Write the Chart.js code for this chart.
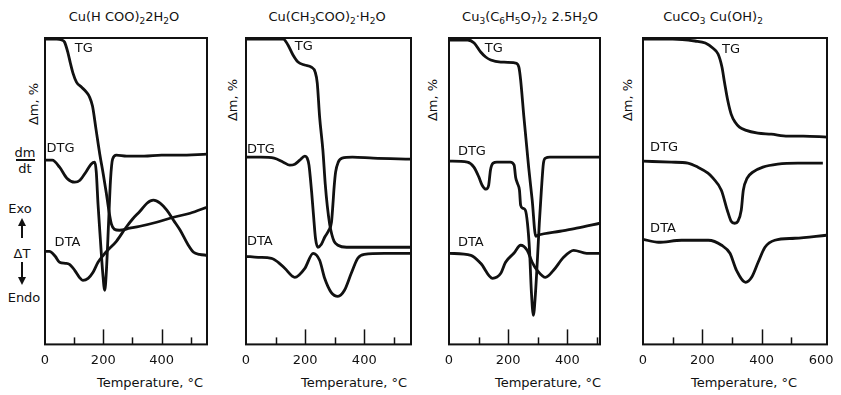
<!DOCTYPE html>
<html>
<head>
<meta charset="utf-8">
<script src="https://cdn.jsdelivr.net/npm/chart.js@4.4.1/dist/chart.umd.min.js"></script>
<style>
  body { margin: 0; background: #fff; }
  #page { position: relative; width: 841px; height: 395px; overflow: hidden; font-family: "DejaVu Sans", sans-serif; color: #111; }
  .panel { position: absolute; top: 34px; }
  .txt { position: absolute; white-space: nowrap; font-size: 13px; transform: translate(-50%, -50%); }
  .ytitle { transform: translate(-50%, -50%) rotate(-90deg); }
  sub { font-size: 9px; vertical-align: -3px; line-height: 0; }
  .vline { position: absolute; width: 2px; background: #111; }
  .head-up { position: absolute; width: 0; height: 0; border-left: 4px solid transparent; border-right: 4px solid transparent; border-bottom: 8px solid #111; }
  .head-down { position: absolute; width: 0; height: 0; border-left: 4px solid transparent; border-right: 4px solid transparent; border-top: 8px solid #111; }
</style>
</head>
<body>
<div id="page">
  <div class="txt" style="left:124px;top:16px">Cu(H COO)<sub>2</sub>2H<sub>2</sub>O</div>
  <div class="txt" style="left:327px;top:16px">Cu(CH<sub>3</sub>COO)<sub>2</sub>·H<sub>2</sub>O</div>
  <div class="txt" style="left:530px;top:16px">Cu<sub>3</sub>(C<sub>6</sub>H<sub>5</sub>O<sub>7</sub>)<sub>2</sub> 2.5H<sub>2</sub>O</div>
  <div class="txt" style="left:713px;top:16px">CuCO<sub>3</sub> Cu(OH)<sub>2</sub></div>

  <div class="txt ytitle" style="left:33px;top:104px">Δm, %</div>
  <div class="txt ytitle" style="left:232px;top:100px">Δm, %</div>
  <div class="txt ytitle" style="left:432px;top:100px">Δm, %</div>
  <div class="txt ytitle" style="left:627px;top:100px">Δm, %</div>

  <div class="txt" style="left:25px;top:152px">dm</div>
  <div class="vline" style="left:16px;top:159px;width:19px;height:1.5px"></div>
  <div class="txt" style="left:25px;top:168px">dt</div>

  <div class="txt" style="left:20px;top:208px">Exo</div>
  <div class="head-up" style="left:18px;top:218px"></div>
  <div class="vline" style="left:21px;top:224px;height:14px"></div>
  <div class="txt" style="left:22px;top:253px">ΔT</div>
  <div class="vline" style="left:21px;top:262px;height:16px"></div>
  <div class="head-down" style="left:18px;top:277px"></div>
  <div class="txt" style="left:24px;top:297px">Endo</div>

  <div class="txt" style="left:150px;top:382px">Temperature, °C</div>
  <div class="txt" style="left:354px;top:382px">Temperature, °C</div>
  <div class="txt" style="left:548px;top:382px">Temperature, °C</div>
  <div class="txt" style="left:744px;top:382px">Temperature, °C</div>
</div>
<script>
// copper formate
const formateTgT = [0, 40, 58, 67, 79, 87, 96, 108, 125, 142, 153, 163, 175, 188, 200, 210, 219, 228, 238, 255, 291, 326, 383, 441, 498, 556];
const formateTg = [305, 305, 304, 302, 291, 281, 271, 262, 257, 252, 247, 238, 215, 190, 170, 152, 134, 120, 115, 114, 116, 118, 122, 127, 131, 137];
const formateDtgT = [0, 25, 50, 75, 102, 120, 140, 158, 171, 176, 182, 190, 198, 205, 211, 218, 225, 232, 245, 280, 340, 400, 460, 556];
const formateDtg = [184, 184, 177, 166, 162, 164, 172, 180, 182, 172, 140, 105, 72, 54, 75, 120, 165, 185, 189, 188, 188, 189, 189, 190];
const formateDtaT = [0, 15, 35, 50, 70, 84, 102, 118, 130, 148, 165, 182, 200, 215, 245, 276, 300, 326, 350, 372, 395, 418, 441, 464, 490, 510, 530, 556];
const formateDta = [93, 93, 88, 82, 81, 80, 74, 67, 64, 66, 72, 82, 89, 94, 103, 116, 125, 133, 141, 144, 141, 134, 124, 114, 100, 92, 90, 89];

// copper acetate
const acetateTgT = [0, 126, 142, 159, 176, 198, 221, 234, 241, 249, 260, 268, 275, 283, 290, 298, 311, 340, 430, 558];
const acetateTg = [305, 305, 299, 289, 282, 279, 277, 272, 261, 227, 194, 160, 138, 120, 110, 103, 99, 97, 97, 97];
const acetateDtgT = [0, 50, 95, 126, 148, 165, 182, 199, 207, 213, 218, 222, 228, 235, 243, 255, 266, 280, 289, 294, 298, 303, 312, 325, 360, 430, 558];
const acetateDtg = [187, 187, 186, 182, 179, 180, 184, 188, 186, 179, 165, 152, 130, 106, 97, 100, 107, 114, 122, 140, 157, 172, 182, 186, 187, 186, 185];
const acetateDtaT = [0, 41, 86, 109, 131, 165, 199, 227, 249, 266, 288, 311, 333, 356, 378, 400, 468, 558];
const acetateDta = [88, 87, 86, 82, 76, 67, 76, 91, 84, 66, 52, 48, 54, 71, 86, 90, 91, 91];

// copper citrate
const citrateTgT = [0, 63, 85, 107, 124, 141, 175, 225, 236, 242, 253, 269, 281, 293, 300, 375, 431, 510];
const citrateTg = [304, 304, 301, 292, 287, 284, 282, 281, 277, 264, 227, 177, 144, 108, 109, 113, 116, 121];
const citrateDtgT = [0, 62, 84, 101, 112, 125, 134, 140, 149, 162, 207, 220, 225, 231, 238, 242, 249, 258, 265, 272, 278, 285, 292, 299, 305, 312, 319, 326, 341, 510];
const citrateDtg = [183, 182, 177, 167, 159, 155, 159, 174, 181, 182, 182, 179, 167, 161, 154, 139, 136, 134, 121, 94, 54, 29, 51, 87, 121, 154, 181, 186, 187, 187];
const citrateDtaT = [0, 74, 107, 147, 175, 191, 219, 242, 264, 281, 298, 326, 353, 387, 421, 465, 510];
const citrateDta = [91, 89, 81, 66, 71, 82, 91, 99, 94, 82, 74, 67, 74, 87, 94, 91, 91];

// basic copper carbonate
const carbonateTgT = [0, 100, 175, 210, 235, 253, 266, 275, 286, 297, 310, 325, 345, 387, 432, 488, 540, 620];
const carbonateTg = [305, 305, 303, 301, 296, 290, 277, 261, 243, 230, 222, 217, 214, 211, 210, 208, 208, 207];
const carbonateDtgT = [0, 95, 151, 185, 219, 236, 264, 284, 297, 309, 320, 331, 338, 351, 370, 404, 454, 522, 606];
const carbonateDtg = [183, 182, 181, 177, 171, 166, 154, 134, 123, 121, 123, 134, 154, 166, 172, 177, 180, 181, 181];
const carbonateDtaT = [0, 52, 130, 220, 265, 293, 315, 346, 366, 388, 411, 444, 512, 618];
const carbonateDta = [105, 102, 104, 104, 99, 91, 74, 62, 67, 82, 97, 104, 106, 109];

const majorTicks = [0, 200, 400];
const majorTicksWide = [0, 200, 400, 600];
const minorTicks = [100, 300, 500];

function pts(t, v) {
  return t.map((x, i) => ({ x: x, y: v[i] }));
}

const framePlugin = {
  id: "frame",
  afterDatasetsDraw(chart, args, opts) {
    const ctx = chart.ctx;
    const a = chart.chartArea;
    const x = chart.scales.x;
    const y = chart.scales.y;
    ctx.save();
    ctx.strokeStyle = "#111";
    ctx.lineWidth = 2;
    ctx.strokeRect(a.left, a.top, a.right - a.left, a.bottom - a.top);
    ctx.lineWidth = 1.5;
    opts.major.forEach((v) => {
      if (v <= 0 || v > x.max - 30) return;
      const px = Math.round(x.getPixelForValue(v)) + 0.5;
      ctx.beginPath();
      ctx.moveTo(px, a.bottom);
      ctx.lineTo(px, a.bottom - 15);
      ctx.stroke();
    });
    opts.minor.forEach((v) => {
      if (v >= x.max) return;
      const px = Math.round(x.getPixelForValue(v)) + 0.5;
      ctx.beginPath();
      ctx.moveTo(px, a.bottom);
      ctx.lineTo(px, a.bottom - 7);
      ctx.stroke();
    });
    ctx.fillStyle = "#111";
    ctx.font = '13px "DejaVu Sans"';
    ctx.textBaseline = "middle";
    ctx.textAlign = "left";
    opts.labels.forEach((l) => {
      ctx.fillText(l.text, x.getPixelForValue(l.t), y.getPixelForValue(l.v));
    });
    ctx.restore();
  },
};

const panels = [
  {
    left: 45, width: 162, xMax: 556, major: majorTicks,
    curves: [pts(formateTgT, formateTg), pts(formateDtgT, formateDtg), pts(formateDtaT, formateDta)],
    labels: [{ text: "TG", t: 102, v: 295 }, { text: "DTG", t: 5, v: 196 }, { text: "DTA", t: 33, v: 102 }],
  },
  {
    left: 246, width: 165, xMax: 558, major: majorTicks,
    curves: [pts(acetateTgT, acetateTg), pts(acetateDtgT, acetateDtg), pts(acetateDtaT, acetateDta)],
    labels: [{ text: "TG", t: 165, v: 297 }, { text: "DTG", t: 3, v: 195 }, { text: "DTA", t: 3, v: 103 }],
  },
  {
    left: 449, width: 151, xMax: 510, major: majorTicks,
    curves: [pts(citrateTgT, citrateTg), pts(citrateDtgT, citrateDtg), pts(citrateDtaT, citrateDta)],
    labels: [{ text: "TG", t: 121, v: 295 }, { text: "DTG", t: 30, v: 193 }, { text: "DTA", t: 30, v: 102 }],
  },
  {
    left: 643, width: 184, xMax: 620, major: majorTicksWide,
    curves: [pts(carbonateTgT, carbonateTg), pts(carbonateDtgT, carbonateDtg), pts(carbonateDtaT, carbonateDta)],
    labels: [{ text: "TG", t: 266, v: 294 }, { text: "DTG", t: 24, v: 197 }, { text: "DTA", t: 24, v: 116 }],
  },
];

const page = document.getElementById("page");

panels.forEach((p) => {
  const box = document.createElement("div");
  box.className = "panel";
  box.style.left = p.left - 16 + "px";
  const canvas = document.createElement("canvas");
  canvas.width = p.width + 32;
  canvas.height = 361;
  box.appendChild(canvas);
  page.appendChild(box);

  new Chart(canvas, {
    type: "line",
    data: {
      datasets: p.curves.map((c) => ({
        data: c,
        borderColor: "#111",
        borderWidth: 2.8,
        pointRadius: 0,
        fill: false,
        cubicInterpolationMode: "monotone",
      })),
    },
    options: {
      responsive: false,
      animation: false,
      devicePixelRatio: 1,
      layout: { padding: { left: 16, right: 16, top: 4, bottom: 19 } },
      plugins: {
        legend: { display: false },
        tooltip: { enabled: false },
        frame: { major: p.major, minor: minorTicks, labels: p.labels },
      },
      scales: {
        x: {
          type: "linear",
          min: 0,
          max: p.xMax,
          afterBuildTicks: (axis) => {
            axis.ticks = p.major.map((v) => ({ value: v }));
          },
          grid: { display: false, drawTicks: false },
          border: { display: false },
          ticks: { padding: 8, color: "#111", font: { family: "DejaVu Sans", size: 13 }, maxRotation: 0 },
        },
        y: {
          type: "linear",
          display: false,
          min: 0,
          max: 306,
        },
      },
    },
    plugins: [framePlugin],
  });
});
</script>
</body>
</html>
